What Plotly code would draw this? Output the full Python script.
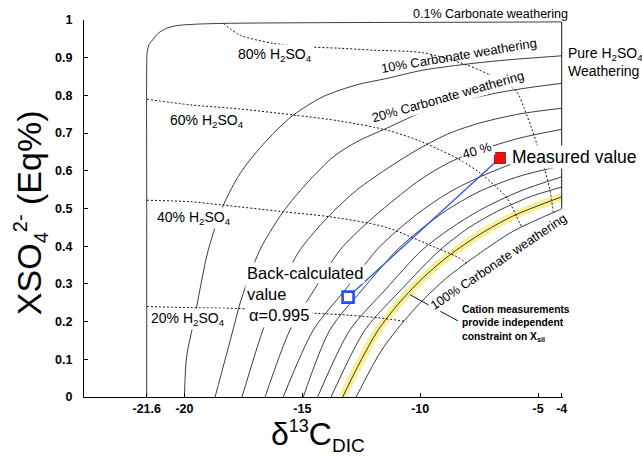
import plotly.graph_objects as go

FONT = "Liberation Sans, Arial, sans-serif"

# ---- constant carbonate-weathering fraction isolines (solid) ----
carb0_x = [-21.6, -21.6, -21.6, -21.58, -21.5, -21.35, -21.11, -20.75, -20.33, -19.48, -18.35, -14.0, -8.3, -4.0]
carb0_y = [0.0, 0.5, 0.88, 0.915, 0.935, 0.947, 0.965, 0.978, 0.985, 0.989, 0.991, 0.993, 0.994, 0.995]

carb10_x = [-20.0, -19.91, -19.59, -18.99, -18.35, -17.64, -16.93, -16.23, -15.38, -14.11, -12.69, -11.42, -9.88, -7.75, -6.33, -4.0]
carb10_y = [0.0, 0.106, 0.204, 0.390, 0.509, 0.593, 0.651, 0.699, 0.748, 0.797, 0.828, 0.845, 0.867, 0.885, 0.894, 0.905]

carb20_x = [-18.70, -17.94, -17.60, -16.80, -15.81, -14.81, -13.69, -12.69, -11.42, -10.01, -8.31, -6.62, -5.34, -4.0]
carb20_y = [0.0, 0.178, 0.257, 0.390, 0.4915, 0.567, 0.637, 0.677, 0.713, 0.753, 0.785, 0.808, 0.821, 0.832]

carb30_x = [-17.56, -16.67, -15.99, -15.10, -13.83, -12.69, -11.28, -10.01, -8.74, -7.46, -5.77, -4.0]
carb30_y = [0.0, 0.178, 0.284, 0.390, 0.483, 0.549, 0.611, 0.660, 0.700, 0.727, 0.751, 0.766]

carb40_x = [-16.58, -15.52, -14.50, -13.40, -12.27, -11.28, -10.01, -8.74, -7.46, -5.77, -4.0]
carb40_y = [0.0, 0.178, 0.284, 0.390, 0.461, 0.514, 0.576, 0.623, 0.655, 0.687, 0.710]

carb50_x = [-15.81, -14.53, -13.19, -11.85, -11.28, -10.01, -8.74, -7.46, -5.77, -4.0]
carb50_y = [0.0, 0.178, 0.284, 0.390, 0.425, 0.491, 0.544, 0.584, 0.626, 0.655]

carb60_x = [-14.96, -13.83, -12.47, -10.98, -10.01, -8.74, -7.46, -5.77, -4.0]
carb60_y = [0.0, 0.178, 0.284, 0.390, 0.443, 0.501, 0.546, 0.586, 0.613]

carb70_x = [-14.35, -12.98, -11.49, -9.92, -8.74, -7.46, -5.77, -4.0]
carb70_y = [0.0, 0.178, 0.284, 0.390, 0.446, 0.496, 0.546, 0.584]

carb80_x = [-13.78, -12.34, -10.82, -9.16, -7.89, -6.62, -5.34, -4.0]
carb80_y = [0.0, 0.178, 0.284, 0.390, 0.451, 0.496, 0.531, 0.557]

carb90_x = [-13.29, -12.55, -11.78, -10.86, -9.80, -8.74, -7.46, -6.07, -4.0]
carb90_y = [0.0, 0.093, 0.178, 0.252, 0.321, 0.377, 0.432, 0.480, 0.531]

carb100_x = [-12.72, -11.71, -11.00, -10.01, -8.88, -7.46, -6.05, -4.0]
carb100_y = [0.0, 0.117, 0.178, 0.249, 0.316, 0.382, 0.440, 0.499]

# pure sulfuric-acid weathering boundary at the carbonate end-member
pure_h2so4_x = [-4.0, -4.0]
pure_h2so4_y = [0.995, 0.499]

# ---- constant H2SO4 fraction isolines (dotted) ----
acid80_x = [-18.35, -17.64, -16.23, -14.81, -13.40, -11.99, -9.87, -8.03, -6.76, -5.91, -5.60, -5.27, -4.84, -4.50, -4.36]
acid80_y = [0.991, 0.960, 0.938, 0.929, 0.925, 0.920, 0.913, 0.881, 0.845, 0.810, 0.767, 0.711, 0.629, 0.549, 0.491]

acid60_x = [-21.6, -19.76, -17.64, -15.38, -13.40, -11.42, -10.01, -9.16, -8.31, -7.46, -6.83, -6.32, -5.90, -5.68]
acid60_y = [0.790, 0.775, 0.764, 0.748, 0.732, 0.708, 0.679, 0.655, 0.629, 0.594, 0.560, 0.528, 0.477, 0.448]

acid40_x = [-21.6, -19.76, -18.35, -15.81, -13.83, -11.49, -9.45, -8.45, -8.03]
acid40_y = [0.522, 0.518, 0.509, 0.4915, 0.478, 0.451, 0.399, 0.372, 0.355]

acid20_x = [-21.6, -19.76, -17.78, -15.95, -14.39, -13.12, -11.71, -10.57]
acid20_y = [0.240, 0.237, 0.235, 0.229, 0.222, 0.2175, 0.2095, 0.200]

# ---- samples ----
measured = (-6.62, 0.634)
back_calc = (-13.06, 0.265)

# leader line for the cation note
pointer_x = [-10.43, -8.40]
pointer_y = [0.271, 0.202]

x_ticks = [-21.6, -20, -15, -10, -5, -4]
x_tick_text = ["-21.6", "-20", "-15", "-10", "-5", "-4"]
y_ticks = [0, 0.1, 0.2, 0.3, 0.4, 0.5, 0.6, 0.7, 0.8, 0.9, 1]
y_tick_text = ["0", "0.1", "0.2", "0.3", "0.4", "0.5", "0.6", "0.7", "0.8", "0.9", "1"]

fig = go.Figure()

# highlighted isoline constrained by cation data
fig.add_trace(go.Scatter(x=carb90_x, y=carb90_y, mode="lines",
                         line=dict(color="#f8ef96", width=8, shape="spline", smoothing=0.8),
                         hoverinfo="skip"))

solid = [(carb0_x, carb0_y), (carb10_x, carb10_y), (carb20_x, carb20_y), (carb30_x, carb30_y),
         (carb40_x, carb40_y), (carb50_x, carb50_y), (carb60_x, carb60_y), (carb70_x, carb70_y),
         (carb80_x, carb80_y), (carb90_x, carb90_y), (carb100_x, carb100_y)]
for xs, ys in solid:
    fig.add_trace(go.Scatter(x=xs, y=ys, mode="lines",
                             line=dict(color="#1a1a1a", width=0.85, shape="spline", smoothing=0.8)))

fig.add_trace(go.Scatter(x=pure_h2so4_x, y=pure_h2so4_y, mode="lines",
                         line=dict(color="#1a1a1a", width=1)))

for xs, ys in [(acid80_x, acid80_y), (acid60_x, acid60_y), (acid40_x, acid40_y), (acid20_x, acid20_y)]:
    fig.add_trace(go.Scatter(x=xs, y=ys, mode="lines",
                             line=dict(color="#111111", width=1, dash="2px,2px",
                                       shape="spline", smoothing=0.8)))

fig.add_trace(go.Scatter(x=pointer_x, y=pointer_y, mode="lines",
                         line=dict(color="#111111", width=1)))

# back-calculation path
fig.add_trace(go.Scatter(x=[back_calc[0], measured[0]], y=[back_calc[1], measured[1]], mode="lines",
                         line=dict(color="#2a56e8", width=1.3)))
fig.add_trace(go.Scatter(x=[back_calc[0]], y=[back_calc[1]], mode="markers",
                         marker=dict(symbol="square", size=11, color="white",
                                     line=dict(color="#1f4fff", width=2.6))))
fig.add_trace(go.Scatter(x=[measured[0]], y=[measured[1]], mode="markers",
                         marker=dict(symbol="square", size=11, color="#ee1111",
                                     line=dict(color="#8a0000", width=0.8))))

ann = []


def label(text, x, y, size=13, angle=0, bg=None, xanchor="center", xref="x", yref="y",
          align="center", bold=False, pad=1):
    ann.append(dict(text=text, x=x, y=y, xref=xref, yref=yref, showarrow=False,
                    textangle=angle, xanchor=xanchor, yanchor="middle", align=align,
                    bgcolor=bg, borderpad=pad,
                    font=dict(family=FONT, size=size, color="black",
                              weight="bold" if bold else "normal")))


label("0.1% Carbonate weathering", -7.04, 1.016, size=12.5, yref="paper")
label("10% Carbonate weathering", -8.36, 0.907, size=13, angle=-9.5)
label("20% Carbonate weathering", -8.82, 0.798, size=13, angle=-16, bg="white")
label("40 %", -7.61, 0.655, size=13, angle=-17, bg="white")
label("100% Carbonate weathering", -6.69, 0.359, size=12.7, angle=-34, bg="white")

label("80% H<sub>2</sub>SO<sub>4</sub>", -16.14, 0.907, size=14, bg="white")
label("60% H<sub>2</sub>SO<sub>4</sub>", -19.06, 0.732, size=14, bg="white")
label("40% H<sub>2</sub>SO<sub>4</sub>", -19.59, 0.475, size=14, bg="white")
label("20% H<sub>2</sub>SO<sub>4</sub>", -19.83, 0.208, size=14, bg="white")

label("Pure H<sub>2</sub>SO<sub>4</sub><br>Weathering", 1.006, 0.889, size=14,
      xref="paper", yref="paper", xanchor="left", align="left")
label("Measured value", -6.2, 0.636, size=17.5, xanchor="left", bg="white")
label("Back-calculated", -17.45, 0.329, size=16.5, xanchor="left", bg="white")
label("value", -17.45, 0.273, size=16.5, xanchor="left", bg="white")
label("α=0.995", -17.45, 0.2175, size=16.5, xanchor="left", bg="white", pad=3)
label("Cation measurements<br>provide independent<br>constraint on X<sub>sil</sub>", -8.32, 0.194,
      size=10.3, xanchor="left", align="left", bold=True)

# axis titles
label("XSO<sub><span style='font-size:20px'>4</span></sub>"
      "<sup><span style='font-size:20px'>2-</span></sup> (Eq%)",
      -0.113, 0.49, size=34, angle=-90, xref="paper", yref="paper")
label("δ<sup><span style='font-size:18px'>13</span></sup>C"
      "<sub><span style='font-size:19px'>DIC</span></sub>",
      0.488, -0.104, size=32, xref="paper", yref="paper")

fig.update_layout(
    width=642, height=456,
    margin=dict(l=84, r=79, t=20, b=59),
    paper_bgcolor="white", plot_bgcolor="white",
    showlegend=False,
    annotations=ann,
    font=dict(family=FONT, color="black"),
)
fig.update_xaxes(range=[-24.26, -3.945], tickvals=x_ticks, ticktext=x_tick_text,
                 showline=True, linecolor="black", linewidth=1, ticks="inside", ticklen=4,
                 tickcolor="black", showgrid=False, zeroline=False,
                 tickfont=dict(family=FONT, size=12.5, color="black", weight="bold"))
fig.update_yaxes(range=[0, 1], tickvals=y_ticks, ticktext=y_tick_text,
                 showline=True, linecolor="black", linewidth=1, ticks="inside", ticklen=4,
                 tickcolor="black", showgrid=False, zeroline=False, ticklabelstandoff=8,
                 tickfont=dict(family=FONT, size=12.5, color="black", weight="bold"))

fig.write_html("out.html")
